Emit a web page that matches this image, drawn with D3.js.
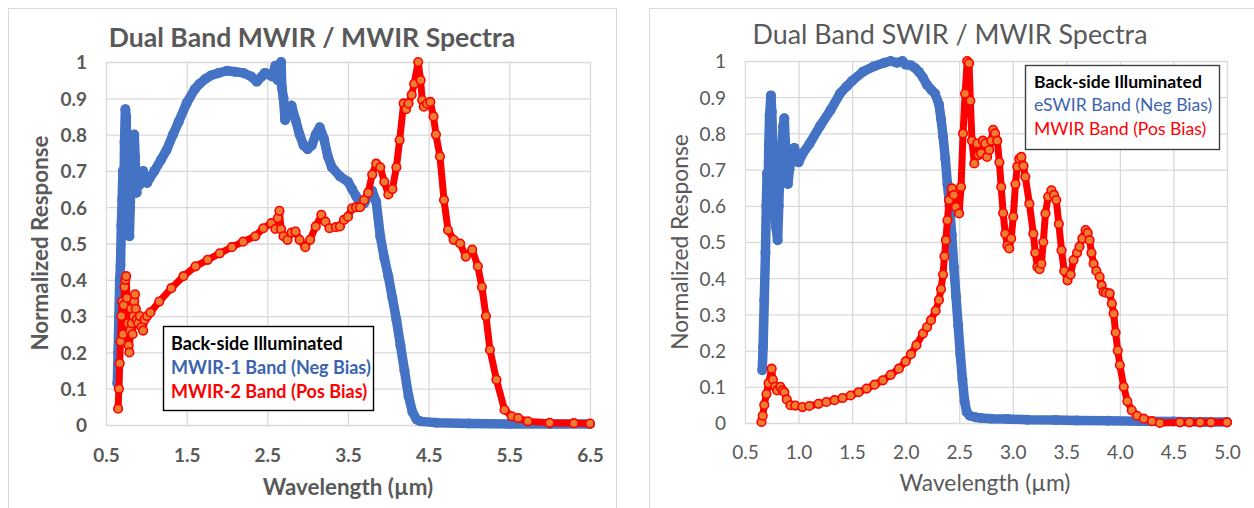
<!DOCTYPE html>
<html><head><meta charset="utf-8">
<script src="https://cdn.jsdelivr.net/npm/d3@7"></script>
<style>
body{margin:0;background:#fff;}
svg{display:block;}
text{font-family:Lato,"Open Sans",sans-serif;}
</style>
</head><body>
<svg id="c" width="1254" height="508"></svg>
<script>
// ---------- DATA (wavelength µm, normalized response) ----------
const mwir1Band = [[0.64,0.115],[0.65,0.2],[0.66,0.3],[0.67,0.4],[0.68,0.44],[0.69,0.55],[0.70,0.62],[0.71,0.7],[0.72,0.6],[0.73,0.78],[0.74,0.87],[0.75,0.85],[0.76,0.72],[0.77,0.62],[0.78,0.55],[0.79,0.52],[0.80,0.6],[0.81,0.68],[0.82,0.75],[0.83,0.7],[0.84,0.78],[0.85,0.8],[0.86,0.74],[0.87,0.66],[0.88,0.64],[0.89,0.7],[0.91,0.66],[0.93,0.68],[0.96,0.7],[0.98,0.67],[1.01,0.667],[1.1,0.7],[1.18,0.73],[1.25,0.757],[1.33,0.8],[1.4,0.835],[1.5,0.887],[1.6,0.925],[1.66,0.94],[1.73,0.953],[1.8,0.963],[1.9,0.97],[2.0,0.976],[2.1,0.973],[2.2,0.97],[2.3,0.96],[2.37,0.946],[2.43,0.96],[2.47,0.97],[2.52,0.965],[2.56,0.96],[2.6,0.99],[2.63,0.95],[2.65,0.97],[2.67,1.0],[2.68,0.93],[2.7,0.9],[2.72,0.84],[2.75,0.87],[2.8,0.88],[2.85,0.84],[2.9,0.8],[2.95,0.77],[3.0,0.76],[3.05,0.77],[3.1,0.8],[3.15,0.82],[3.2,0.79],[3.25,0.74],[3.3,0.71],[3.4,0.685],[3.5,0.67],[3.55,0.65],[3.6,0.63],[3.65,0.61],[3.7,0.61],[3.75,0.63],[3.8,0.645],[3.85,0.615],[3.9,0.52],[3.95,0.46],[4.0,0.41],[4.05,0.35],[4.1,0.29],[4.15,0.22],[4.2,0.15],[4.25,0.08],[4.3,0.035],[4.35,0.015],[4.4,0.01],[4.6,0.006],[5.0,0.004],[5.5,0.003],[6.0,0.003],[6.5,0.003]];

const mwir2Band = [[0.65,0.045],[0.66,0.1],[0.67,0.17],[0.68,0.23],[0.69,0.3],[0.70,0.34],[0.71,0.25],[0.72,0.33],[0.73,0.38],[0.74,0.4],[0.75,0.41],[0.76,0.35],[0.77,0.28],[0.78,0.22],[0.79,0.2],[0.80,0.26],[0.81,0.32],[0.82,0.28],[0.83,0.25],[0.84,0.3],[0.85,0.34],[0.86,0.36],[0.87,0.32],[0.88,0.29],[0.90,0.28],[0.92,0.3],[0.94,0.27],[0.96,0.26],[0.98,0.29],[1.01,0.3],[1.05,0.31],[1.16,0.34],[1.31,0.377],[1.46,0.41],[1.61,0.437],[1.76,0.455],[1.91,0.473],[2.06,0.49],[2.2,0.505],[2.35,0.52],[2.45,0.542],[2.55,0.556],[2.6,0.54],[2.63,0.57],[2.65,0.59],[2.67,0.54],[2.7,0.52],[2.75,0.51],[2.8,0.53],[2.85,0.533],[2.9,0.51],[2.97,0.49],[3.03,0.51],[3.1,0.547],[3.17,0.579],[3.22,0.56],[3.27,0.542],[3.35,0.545],[3.4,0.547],[3.45,0.565],[3.5,0.574],[3.55,0.597],[3.6,0.6],[3.65,0.6],[3.7,0.62],[3.75,0.64],[3.8,0.69],[3.85,0.72],[3.9,0.71],[3.95,0.67],[4.0,0.635],[4.05,0.65],[4.1,0.71],[4.14,0.785],[4.19,0.886],[4.22,0.87],[4.25,0.886],[4.29,0.91],[4.32,0.94],[4.37,1.0],[4.4,0.95],[4.42,0.895],[4.44,0.877],[4.48,0.885],[4.52,0.89],[4.56,0.85],[4.59,0.8],[4.64,0.74],[4.69,0.62],[4.74,0.537],[4.81,0.51],[4.89,0.5],[4.96,0.464],[5.04,0.483],[5.11,0.437],[5.16,0.38],[5.21,0.3],[5.26,0.207],[5.34,0.125],[5.44,0.042],[5.53,0.024],[5.61,0.019],[5.73,0.01],[6.0,0.006],[6.3,0.005],[6.5,0.004]];

const eswirBand = [[0.661,0.146],[0.669,0.21],[0.68,0.34],[0.691,0.47],[0.699,0.6],[0.706,0.69],[0.715,0.62],[0.722,0.77],[0.73,0.85],[0.742,0.905],[0.75,0.86],[0.76,0.76],[0.77,0.65],[0.78,0.58],[0.79,0.54],[0.805,0.505],[0.815,0.6],[0.825,0.7],[0.835,0.66],[0.845,0.76],[0.856,0.82],[0.867,0.842],[0.875,0.78],[0.885,0.7],[0.9,0.66],[0.915,0.7],[0.935,0.74],[0.96,0.76],[0.98,0.74],[1.0,0.72],[1.04,0.745],[1.1,0.77],[1.2,0.82],[1.3,0.865],[1.387,0.91],[1.45,0.93],[1.5,0.945],[1.6,0.97],[1.7,0.985],[1.8,0.995],[1.86,1.0],[1.92,0.995],[1.97,1.0],[2.0,0.99],[2.05,0.988],[2.09,0.98],[2.124,0.97],[2.16,0.955],[2.199,0.934],[2.24,0.92],[2.274,0.91],[2.311,0.88],[2.33,0.84],[2.35,0.79],[2.37,0.73],[2.39,0.66],[2.41,0.6],[2.43,0.52],[2.45,0.43],[2.47,0.35],[2.49,0.27],[2.51,0.19],[2.53,0.12],[2.55,0.06],[2.57,0.03],[2.6,0.02],[2.65,0.016],[2.7,0.014],[2.8,0.012],[2.95,0.011],[3.136,0.009],[3.4,0.008],[3.6,0.007],[3.886,0.006],[4.2,0.005],[4.5,0.004],[4.8,0.003],[5.0,0.003]];

const mwirBand = [[0.654,0.003],[0.665,0.02],[0.68,0.05],[0.7,0.08],[0.72,0.11],[0.749,0.15],[0.76,0.12],[0.781,0.1],[0.8,0.09],[0.83,0.1],[0.85,0.09],[0.867,0.085],[0.89,0.065],[0.924,0.049],[0.97,0.048],[1.036,0.044],[1.1,0.047],[1.186,0.053],[1.26,0.058],[1.336,0.063],[1.41,0.069],[1.486,0.076],[1.56,0.085],[1.636,0.095],[1.71,0.106],[1.786,0.118],[1.86,0.133],[1.936,0.15],[2.0,0.17],[2.049,0.19],[2.1,0.215],[2.161,0.247],[2.2,0.265],[2.236,0.284],[2.28,0.31],[2.311,0.34],[2.33,0.37],[2.349,0.41],[2.362,0.46],[2.375,0.505],[2.39,0.56],[2.405,0.616],[2.431,0.648],[2.45,0.63],[2.469,0.597],[2.499,0.579],[2.517,0.652],[2.536,0.8],[2.555,0.91],[2.574,1.0],[2.592,0.994],[2.604,0.89],[2.619,0.78],[2.641,0.717],[2.667,0.772],[2.68,0.74],[2.705,0.745],[2.72,0.78],[2.742,0.772],[2.76,0.735],[2.78,0.754],[2.8,0.78],[2.817,0.81],[2.835,0.8],[2.855,0.78],[2.875,0.72],[2.892,0.652],[2.91,0.58],[2.93,0.523],[2.95,0.49],[2.967,0.482],[2.985,0.51],[3.005,0.57],[3.025,0.66],[3.042,0.708],[3.06,0.73],[3.08,0.735],[3.1,0.71],[3.117,0.68],[3.155,0.606],[3.192,0.523],[3.21,0.47],[3.23,0.431],[3.25,0.425],[3.267,0.44],[3.285,0.5],[3.305,0.579],[3.33,0.625],[3.361,0.643],[3.385,0.63],[3.406,0.616],[3.43,0.55],[3.455,0.477],[3.48,0.42],[3.511,0.394],[3.54,0.41],[3.567,0.45],[3.6,0.47],[3.623,0.487],[3.65,0.51],[3.68,0.533],[3.7,0.525],[3.717,0.505],[3.735,0.47],[3.755,0.44],[3.78,0.42],[3.811,0.404],[3.83,0.38],[3.848,0.362],[3.87,0.36],[3.905,0.358],[3.925,0.33],[3.942,0.302],[3.96,0.25],[3.98,0.2],[4.0,0.16],[4.036,0.1],[4.07,0.06],[4.111,0.035],[4.16,0.02],[4.223,0.012],[4.3,0.005],[4.373,0.0],[4.561,0.002],[4.65,0.002],[4.75,0.002],[4.85,0.002],[5.0,0.002]];

const leftXTicks = [0.5,1.5,2.5,3.5,4.5,5.5,6.5];
const rightXTicks = [0.5,1.0,1.5,2.0,2.5,3.0,3.5,4.0,4.5,5.0];
const yTicks = [0,0.1,0.2,0.3,0.4,0.5,0.6,0.7,0.8,0.9,1];
const yTickLabels = ["0","0.1","0.2","0.3","0.4","0.5","0.6","0.7","0.8","0.9","1"];
const leftLegend = ["Back-side Illuminated","MWIR-1 Band (Neg Bias)","MWIR-2 Band (Pos Bias)"];
const rightLegend = ["Back-side Illuminated","eSWIR Band (Neg Bias)","MWIR Band (Pos Bias)"];

// ---------- DRAW ----------
const svg = d3.select('#c');
svg.append('rect').attr('width',1254).attr('height',508).attr('fill','#fff');
svg.append('rect').attr('x',8.5).attr('y',8.5).attr('width',608).attr('height',530)
  .attr('fill','#fff').attr('stroke','#d9d9d9');
svg.append('rect').attr('x',649.5).attr('y',8.5).attr('width',640).attr('height',530)
  .attr('fill','#fff').attr('stroke','#d9d9d9');

const BLUE = '#4472C4', RED = '#FF0000', ORANGE = '#ED7D31', GRAY = '#595959';

function chart(c){
  const x = d3.scaleLinear().domain(c.xDomain).range([c.x0, c.x1]);
  const y = d3.scaleLinear().domain([0,1]).range([c.y0, c.y1]);
  const g = svg.append('g');
  const fw = c.bold ? 700 : 400;

  const gx = g.append('g').attr('transform',`translate(0,${c.y0})`)
    .call(d3.axisBottom(x).tickValues(c.xTicks).tickSize(-(c.y0-c.y1)).tickFormat(d3.format('.1f')));
  gx.select('.domain').remove();
  gx.selectAll('line').attr('stroke','#d9d9d9').attr('stroke-width',1.3);
  gx.selectAll('text').attr('y',c.xLabOff).attr('dy',0).attr('fill',GRAY)
    .style('font-size',c.tickSize+'px').style('font-weight',fw);

  const gy = g.append('g').attr('transform',`translate(${c.x0},0)`)
    .call(d3.axisLeft(y).tickValues(yTicks).tickSize(-(c.x1-c.x0)).tickFormat((d,i)=>yTickLabels[i]));
  gy.select('.domain').remove();
  gy.selectAll('line').attr('stroke','#d9d9d9').attr('stroke-width',1.3);
  gy.selectAll('text').attr('x',-19).attr('dy','0.36em').attr('fill',GRAY)
    .style('font-size',c.tickSize+'px').style('font-weight',fw);

  const line = d3.line().x(d=>x(d[0])).y(d=>y(d[1]));
  g.append('path').datum(c.blue).attr('d',line).attr('fill','none').attr('stroke',BLUE)
    .attr('stroke-width',9.5).attr('stroke-linejoin','round').attr('stroke-linecap','round');
  g.append('g').selectAll('circle').data(c.blue).join('circle')
    .attr('cx',d=>x(d[0])).attr('cy',d=>y(d[1])).attr('r',5).attr('fill',BLUE);
  g.append('path').datum(c.red).attr('d',line).attr('fill','none').attr('stroke',RED)
    .attr('stroke-width',7).attr('stroke-linejoin','round').attr('stroke-linecap','round');
  g.append('g').selectAll('circle').data(c.red).join('circle')
    .attr('cx',d=>x(d[0])).attr('cy',d=>y(d[1])).attr('r',4.3)
    .attr('fill',ORANGE).attr('stroke',RED).attr('stroke-width',1.6);

  svg.append('text').attr('x',c.titleX).attr('y',c.titleY).attr('text-anchor','middle')
    .attr('fill',GRAY).style('font-size',c.titleSize+'px').style('font-weight',fw).text(c.title);
  svg.append('text').attr('x',c.xtX).attr('y',c.xtY).attr('text-anchor','middle')
    .attr('fill',GRAY).style('font-size',c.axSize+'px').style('font-weight',fw).text('Wavelength (µm)');
  svg.append('text').attr('transform',`translate(${c.ytX},${c.ytY}) rotate(-90)`).attr('text-anchor','middle')
    .attr('fill',GRAY).style('font-size',c.axSize+'px').style('font-weight',fw).text('Normalized Response');

  const L = c.legend;
  svg.append('rect').attr('x',L.x).attr('y',L.y).attr('width',L.w).attr('height',L.h)
    .attr('fill','#fff').attr('stroke',L.stroke).attr('stroke-width',1.4);
  const cols = ['#000000', L.blue, RED];
  c.legendText.forEach((t,i)=>{
    svg.append('text').attr('x',L.tx).attr('y',L.ty[i]).attr('fill',cols[i])
      .style('font-size',L.fs+'px').style('font-weight',(c.bold||i===0)?700:400).text(t);
  });
}

chart({xDomain:[0.5,6.5], x0:106, x1:590, y0:425, y1:62, xTicks:leftXTicks, xLabOff:37, tickSize:19, bold:true,
  blue:mwir1Band, red:mwir2Band, title:'Dual Band MWIR / MWIR Spectra', titleX:312, titleY:47, titleSize:26.6,
  axSize:22.4, xtX:348, xtY:495, ytX:48, ytY:243,
  legend:{x:163.5,y:326.5,w:210,h:84,stroke:'#000',tx:171,ty:[350,374,398],fs:18,blue:'#3A64B0'},
  legendText:leftLegend});

chart({xDomain:[0.5,5.0], x0:745, x1:1227, y0:423, y1:61, xTicks:rightXTicks, xLabOff:36, tickSize:19, bold:false,
  blue:eswirBand, red:mwirBand, title:'Dual Band SWIR / MWIR Spectra', titleX:950, titleY:44, titleSize:26.9,
  axSize:22.8, xtX:985, xtY:491, ytX:688, ytY:242,
  legend:{x:1025.5,y:65.5,w:194,h:84,stroke:'#404040',tx:1034,ty:[88,111,135],fs:17.6,blue:'#3A64B0'},
  legendText:rightLegend});
</script>
</body></html>
